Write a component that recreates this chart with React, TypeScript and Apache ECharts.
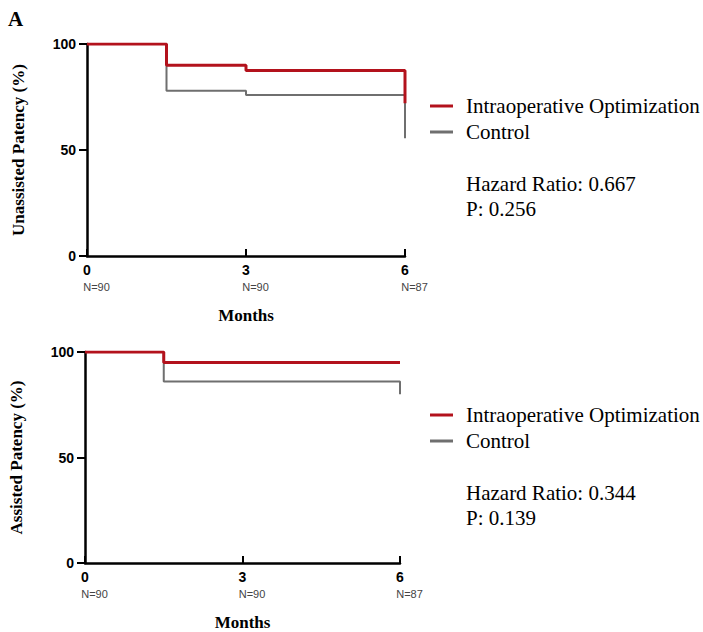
import React, { useEffect, useRef } from "react";
import * as echarts from "echarts";

const SERIES_NAMES = ["Intraoperative Optimization", "Control"];
const COLORS = ["#b3121c", "#6f6f6f"];

// Top panel (Unassisted patency)
const topMonths = [0, 1.5, 3, 6];
const topOptimization = [100, 90, 87.5, 72];
const topControl = [100, 78, 76, 55.5];
const topHR = "Hazard Ratio: 0.667";
const topP = "P: 0.256";

// Bottom panel (Assisted patency)
const botMonths = [0, 1.5, 6, 6];
const botOptimization = [100, 95, 95, 95];
const botControl = [100, 86, 86, 80];
const botHR = "Hazard Ratio: 0.344";
const botP = "P: 0.139";

const xTicks = [0, 3, 6];
const yTicks = [0, 50, 100];
const nTop = ["N=90", "N=90", "N=87"];
const nBot = ["N=90", "N=90", "N=87"];

const SERIF = "'Liberation Serif', 'Times New Roman', serif";
const SANS = "'Liberation Sans', Arial, sans-serif";

const pairs = (xs: number[], ys: number[]) => xs.map((x, i) => [x, ys[i]]);

export default function App() {
  const ref = useRef<HTMLDivElement>(null);
  useEffect(() => {
    if (!ref.current) return;
    const chart = echarts.init(ref.current, null, { renderer: "svg" });

    const mainX = (gridIndex: number) => ({
      type: "value",
      gridIndex,
      min: xTicks[0],
      max: xTicks[xTicks.length - 1],
      interval: 3,
      name: "Months",
      nameLocation: "middle",
      nameGap: 51,
      nameTextStyle: { fontFamily: SERIF, fontWeight: "bold", fontSize: 17, color: "#000" },
      axisLine: { show: true, lineStyle: { color: "#000", width: 2.5 } },
      axisTick: { show: true, inside: true, length: 7, lineStyle: { color: "#000", width: 2 } },
      axisLabel: { margin: 7, fontFamily: SANS, fontWeight: "bold", fontSize: 14, color: "#000", showMinLabel: true, showMaxLabel: true },
      splitLine: { show: false },
    });
    const nX = (gridIndex: number, labels: string[]) => ({
      type: "value",
      gridIndex,
      position: "bottom",
      min: xTicks[0],
      max: xTicks[xTicks.length - 1],
      interval: 3,
      axisLine: { show: false },
      axisTick: { show: false },
      splitLine: { show: false },
      axisLabel: {
        margin: 25,
        align: "center",
        padding: [0, 0, 0, 19],
        fontFamily: SANS,
        fontSize: 11,
        color: "#444",
        showMinLabel: true,
        showMaxLabel: true,
        formatter: (v: number) => labels[xTicks.indexOf(v)] ?? "",
      },
    });
    const mainY = (gridIndex: number, name: string) => ({
      type: "value",
      gridIndex,
      min: yTicks[0],
      max: yTicks[yTicks.length - 1],
      interval: 50,
      name,
      nameLocation: "middle",
      nameGap: 60,
      nameTextStyle: { fontFamily: SERIF, fontWeight: "bold", fontSize: 17, color: "#000" },
      axisLine: { show: true, lineStyle: { color: "#000", width: 2.5 } },
      axisTick: { show: true, length: 8, lineStyle: { color: "#000", width: 2 } },
      axisLabel: { margin: 11, fontFamily: SANS, fontWeight: "bold", fontSize: 14, color: "#000" },
      splitLine: { show: false },
    });
    const line = (name: string, idx: number, data: number[][], color: string, width: number, z: number) => ({
      type: "line",
      name,
      xAxisIndex: idx,
      yAxisIndex: idx,
      step: "end",
      data,
      symbol: "none",
      z,
      lineStyle: { color, width },
      itemStyle: { color },
    });

    const legendBlock = (y0: number, hr: string, p: string) => [
      { type: "line", shape: { x1: 430, y1: y0, x2: 453, y2: y0 }, style: { stroke: COLORS[0], lineWidth: 3 } },
      { type: "text", x: 466, y: y0, style: { text: SERIES_NAMES[0], font: `21px ${SERIF}`, fill: "#000", verticalAlign: "middle" } },
      { type: "line", shape: { x1: 430, y1: y0 + 26, x2: 453, y2: y0 + 26 }, style: { stroke: COLORS[1], lineWidth: 3 } },
      { type: "text", x: 466, y: y0 + 26, style: { text: SERIES_NAMES[1], font: `21px ${SERIF}`, fill: "#000", verticalAlign: "middle" } },
      { type: "text", x: 466, y: y0 + 78, style: { text: hr, font: `21px ${SERIF}`, fill: "#000", verticalAlign: "middle" } },
      { type: "text", x: 466, y: y0 + 103, style: { text: p, font: `21px ${SERIF}`, fill: "#000", verticalAlign: "middle" } },
    ];

    chart.setOption({
      animation: false,
      backgroundColor: "#fff",
      grid: [
        { left: 87, top: 44, width: 318, height: 212 },
        { left: 85, top: 352, width: 315, height: 211 },
      ],
      xAxis: [mainX(0), mainX(1), nX(0, nTop), nX(1, nBot)],
      yAxis: [mainY(0, "Unassisted Patency (%)"), mainY(1, "Assisted Patency (%)")],
      series: [
        line(SERIES_NAMES[1], 0, pairs(topMonths, topControl), COLORS[1], 2, 2),
        line(SERIES_NAMES[0], 0, pairs(topMonths, topOptimization), COLORS[0], 3, 3),
        line(SERIES_NAMES[1], 1, pairs(botMonths, botControl), COLORS[1], 2, 2),
        line(SERIES_NAMES[0], 1, pairs(botMonths, botOptimization), COLORS[0], 3, 3),
      ],
      graphic: [
        { type: "text", x: 8, y: 8, style: { text: "A", font: `bold 21px ${SERIF}`, fill: "#000" } },
        ...legendBlock(106, topHR, topP),
        ...legendBlock(415, botHR, botP),
      ],
    });
    return () => chart.dispose();
  }, []);
  return <div ref={ref} style={{ position: "absolute", left: 0, top: 0, width: 703, height: 632 }} />;
}
